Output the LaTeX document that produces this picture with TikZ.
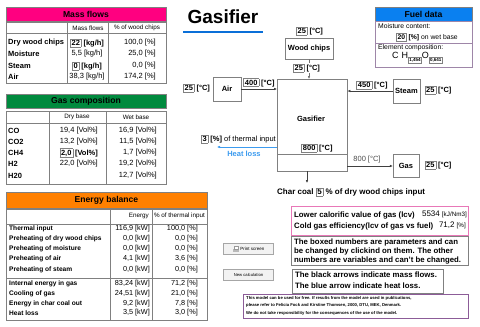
\documentclass[tikz,border=0pt]{standalone}
\usepackage{fontspec}
\setmainfont{Liberation Sans}
\usepackage{xcolor}
\usepackage{tikz}
\usetikzlibrary{positioning,arrows.meta}
\definecolor{massmag}{HTML}{FF0080}
\definecolor{gasgreen}{HTML}{008A3E}
\definecolor{energyorange}{HTML}{FF8000}
\definecolor{fuelblue}{HTML}{0A80F0}
\definecolor{titleblue}{HTML}{0A6FD8}
\definecolor{heatblue}{HTML}{3C9BEF}
\definecolor{framegray}{HTML}{808080}
\definecolor{fuelframe}{HTML}{9E86A8}
\definecolor{lcvframe}{HTML}{E878B8}
\definecolor{notepurple}{HTML}{8C5C98}
\newcommand{\boxnum}[1]{{\setlength{\fboxsep}{1.1pt}\setlength{\fboxrule}{0.4pt}\fcolorbox{framegray}{white}{\textbf{#1}}}}
\newcommand{\subbx}[1]{{\setlength{\fboxsep}{0.8pt}\setlength{\fboxrule}{0.4pt}\fcolorbox{framegray}{white}{\fontsize{4.5}{5}\selectfont\textbf{#1}}}}

\begin{document}
\begin{tikzpicture}[x=1pt,y=-1pt,
  hdr/.style={draw=framegray,inner sep=0pt,font=\fontsize{8.6}{10}\selectfont\bfseries},
  txt/.style={inner sep=0pt,font=\fontsize{7.5}{9}\selectfont},
  lbl/.style={txt,anchor=west,font=\fontsize{7.5}{9}\selectfont\bfseries},
  num/.style={txt,anchor=east},
  colhead/.style={inner sep=0pt,font=\fontsize{6.3}{7}\selectfont},
  elbl/.style={lbl,font=\fontsize{6.6}{8}\selectfont\bfseries},
  enum/.style={num,font=\fontsize{7.3}{8}\selectfont},
  tag/.style={txt,font=\fontsize{7.5}{9}\selectfont\bfseries},
  blockbox/.style={draw=framegray,fill=white,inner sep=0pt,font=\fontsize{7.5}{9}\selectfont\bfseries},
  panel/.style={draw=framegray,line width=0.5pt},
  small/.style={inner sep=0pt,anchor=west,font=\fontsize{6.8}{8}\selectfont},
  note/.style={inner sep=0pt,anchor=north west,align=left},
  button/.style={draw=gray!70,fill=gray!10,inner sep=0pt,minimum width=50pt,minimum height=11pt},
  arr/.style={-{Latex[length=3pt,width=2.6pt]},black!75,line width=0.5pt},
  heat/.style={arr,heatblue}
]
\useasboundingbox (0,0) rectangle (480,327);

% mass flows
\node[hdr,fill=massmag,minimum width=160pt,minimum height=14pt] (mfhdr) at (86,14) {Mass flows};
\draw[panel] (6,22) rectangle (166,83);
\draw[panel] (67,22) -- (67,83) (108,22) -- (108,83) (6,33) -- (166,33);
\node[colhead] (mfcol1) at (88,28) {Mass flows};
\node[colhead] (mfcol2) at (137,28) {\% of wood chips};
\foreach \y/\name/\flow/\pct [count=\i] in {
  43/Dry wood chips/{\boxnum{22} \textbf{[kg/h]}}/{100,0 [\%]},
  54/Moisture/{5,5 [kg/h]}/{25,0 [\%]},
  66/Steam/{\boxnum{0} \textbf{[kg/h]}}/{0,0 [\%]},
  77/Air/{38,3 [kg/h]}/{174,2 [\%]}} {
  \node[lbl] (mflab\i) at (8,\y) {\name};
  \node[txt] (mfval\i) at (87,\y) {\flow};
  \node[num] (mfpct\i) at (156,\y) {\pct};
}

% gas composition
\node[hdr,fill=gasgreen,minimum width=160pt,minimum height=14pt] (gchdr) at (86,101) {Gas composition};
\draw[panel] (6,111) rectangle (166,184);
\draw[panel] (49,111) -- (49,184) (106,111) -- (106,184) (6,123) -- (166,123);
\node[colhead] (gccol1) at (77,117) {Dry base};
\node[colhead] (gccol2) at (136,117) {Wet base};
\foreach \y/\name/\dry/\wet [count=\i] in {
  131/CO/{19,4 [Vol\%]}/{16,9 [Vol\%]},
  142/CO2/{13,2 [Vol\%]}/{11,5 [Vol\%]},
  153/CH4/{\boxnum{2,0} \textbf{[Vol\%]}}/{1,7 [Vol\%]},
  164/H2/{22,0 [Vol\%]}/{19,2 [Vol\%]},
  176/H20/{}/{12,7 [Vol\%]}} {
  \node[lbl] (gclab\i) at (8,\y) {\name};
  \node[num] (gcdry\i) at (98,\y) {\dry};
  \node[num] (gcwet\i) at (157,\y) {\wet};
}

% energy balance
\node[hdr,fill=energyorange,minimum width=201pt,minimum height=16pt] (ebhdr) at (106.5,200) {Energy balance};
\draw[panel] (6,209) rectangle (207,320);
\draw[panel] (110,209) -- (110,320) (152,209) -- (152,320) (6,224) -- (207,224) (6,278) -- (207,278);
\node[colhead,anchor=east] (ebcol1) at (149,216) {Energy};
\node[colhead] (ebcol2) at (179.5,216) {\% of thermal input};
\foreach \y/\name/\en/\pc [count=\i] in {
  229/Thermal input/{116,9}/{100,0},
  239/Preheating of dry wood chips/{0,0}/{0,0},
  249/Preheating of moisture/{0,0}/{0,0},
  259/Preheating of air/{4,1}/{3,6},
  270/Preheating of steam/{0,0}/{0,0},
  284/Internal energy in gas/{83,24}/{71,2},
  294/Cooling of gas/{24,51}/{21,0},
  304/Energy in char coal out/{9,2}/{7,8},
  313/Heat loss/{3,5}/{3,0}} {
  \node[elbl] (eblab\i) at (9,\y) {\name};
  \node[enum] (ebval\i) at (150,\y) {\en{} [kW]};
  \node[enum] (ebpct\i) at (198,\y) {\pc{} [\%]};
}

% gasifier flow sheet
\node[inner sep=0pt,font=\fontsize{19}{22}\selectfont\bfseries] (title) at (223,17) {Gasifier};
\draw[titleblue,line width=2pt] (183,32) -- (263,32);

\node[blockbox,minimum width=70pt,minimum height=92pt,anchor=north west] (gsf) at (277,79) {};
\draw[panel] (277,154) -- (347,154);
\node[tag] (gsflab) at (311,119) {Gasifier};
\node[tag] (gsftemp) at (317,148) {\boxnum{800} [°C]};

\node[tag] (woodtin) at (309.5,31) {\boxnum{25} [°C]};
\node[blockbox,minimum width=48pt,minimum height=21pt] (wood) at (309,48.5) {Wood chips};
\draw[arr,black!55] (wood.south) -- (wood.south |- gsf.north);
\node[tag,fill=white,inner sep=1pt] (woodtout) at (306.5,68) {\boxnum{25} [°C]};

\node[blockbox,minimum width=28pt,minimum height=24pt] (air) at (227,89) {Air};
\node[tag] (airtin) at (196.5,88) {\boxnum{25} [°C]};
\draw[arr] (air.east) -- (air.east -| gsf.west);
\node[tag] (airtout) at (259,82.5) {\boxnum{400} [°C]};

\node[blockbox,minimum width=27pt,minimum height=24pt] (steam) at (406.5,91) {Steam};
\node[tag] (steamtin) at (438,90) {\boxnum{25} [°C]};
\draw[arr] (steam.west) -- (steam.west -| gsf.east);
\node[tag] (steamtout) at (372,85) {\boxnum{450} [°C]};

\node[blockbox,minimum width=26pt,minimum height=23pt] (gas) at (406,166) {Gas};
\draw[arr] (gas.west -| gsf.east) -- (gas.west);
\node[txt,text=black!70] (gastout) at (367,160) {800 [°C]};
\node[tag] (gastemp) at (438,165) {\boxnum{25} [°C]};

\coordinate (charend) at (307,183);
\draw[arr] (charend |- gsf.south) -- (charend);
\node[txt,anchor=west,font=\fontsize{8}{9}\selectfont\bfseries] (char) at (277,192) {Char coal \boxnum{5} \% of dry wood chips input};

\node[txt,anchor=east] (hlin) at (276,139) {\boxnum{3} \textbf{[\%]} of thermal input};
\coordinate (hlend) at (217,147);
\draw[heat] (gsf.west |- hlend) -- (hlend);
\node[tag,text=heatblue] (hl) at (244,154) {Heat loss};

% fuel data
\node[hdr,fill=fuelblue,minimum width=97pt,minimum height=14pt] (fuelhdr) at (423.5,14) {Fuel data};
\draw[draw=fuelframe,line width=0.6pt] (375,21) rectangle (472,67);
\draw[draw=fuelframe,line width=0.6pt] (375,43) -- (472,43);
\node[small] (moist) at (378,26.5) {Moisture content:};
\node[small] (moistval) at (396,37) {\boxnum{20} \textbf{[\%]} on wet base};
\node[small] (elem) at (378,48) {Element composition:};
\node[small,font=\fontsize{9}{10}\selectfont] (cho) at (392,58) {C\hspace{3pt}H\raisebox{-2.5pt}{\subbx{1,454}}O\raisebox{-2.5pt}{\subbx{0,641}}};

% results and notes
\draw[draw=lcvframe,line width=0.8pt] (291,206) rectangle (468,235);
\node[lbl,font=\fontsize{7.8}{9}\selectfont\bfseries] (lcv) at (294,215.5) {Lower calorific value of gas (lcv)};
\node[num] (lcvval) at (467,214.5) {{\fontsize{8}{9}\selectfont 5534} {\fontsize{6.3}{7}\selectfont [kJ/Nm3]}};
\node[lbl,font=\fontsize{7.8}{9}\selectfont\bfseries] (cge) at (294,226) {Cold gas efficiency(lcv of gas vs fuel)};
\node[num] (cgeval) at (466,225) {{\fontsize{8}{9}\selectfont 71,2} {\fontsize{6.3}{7}\selectfont [\%]}};

\draw[draw=framegray,line width=0.8pt] (291,236) rectangle (468,265);
\node[note,font=\fontsize{7.8}{8.6}\selectfont\bfseries] (note1) at (294,239) {The boxed numbers are parameters and can\\be changed by clickind on them. The other\\numbers are variables and can't be changed.};

\draw[draw=framegray,line width=0.8pt] (292,269) rectangle (443,293);
\node[note,font=\fontsize{7.8}{11}\selectfont\bfseries] (note2) at (295,272) {The black arrows indicate mass flows.\\The blue arrow indicate heat loss.};

\draw[draw=notepurple,line width=0.8pt] (243,294) rectangle (468,318);
\node[note,font=\fontsize{4.2}{7.5}\selectfont\bfseries] (note3) at (246,296) {This model can be used for free. If results from the model are used in publications,\\please refer to Felicia Fock and Kirstine Thomsen, 2000, DTU, MEK, Denmark.\\We do not take responsibility for the consequences of the use of the model.};

% buttons
\node[button,font=\fontsize{4.5}{5}\selectfont] (print) at (248.5,248.5) {\hspace{8pt}Print screen};
\fill[gray!55] (233,249) rectangle (239,252);
\draw[gray!80,line width=0.3pt,fill=white] (234.3,246) rectangle (237.7,249);
\node[button,font=\fontsize{4.2}{5}\selectfont] (newcalc) at (248.5,274.5) {New calculation};
\end{tikzpicture}
\end{document}
